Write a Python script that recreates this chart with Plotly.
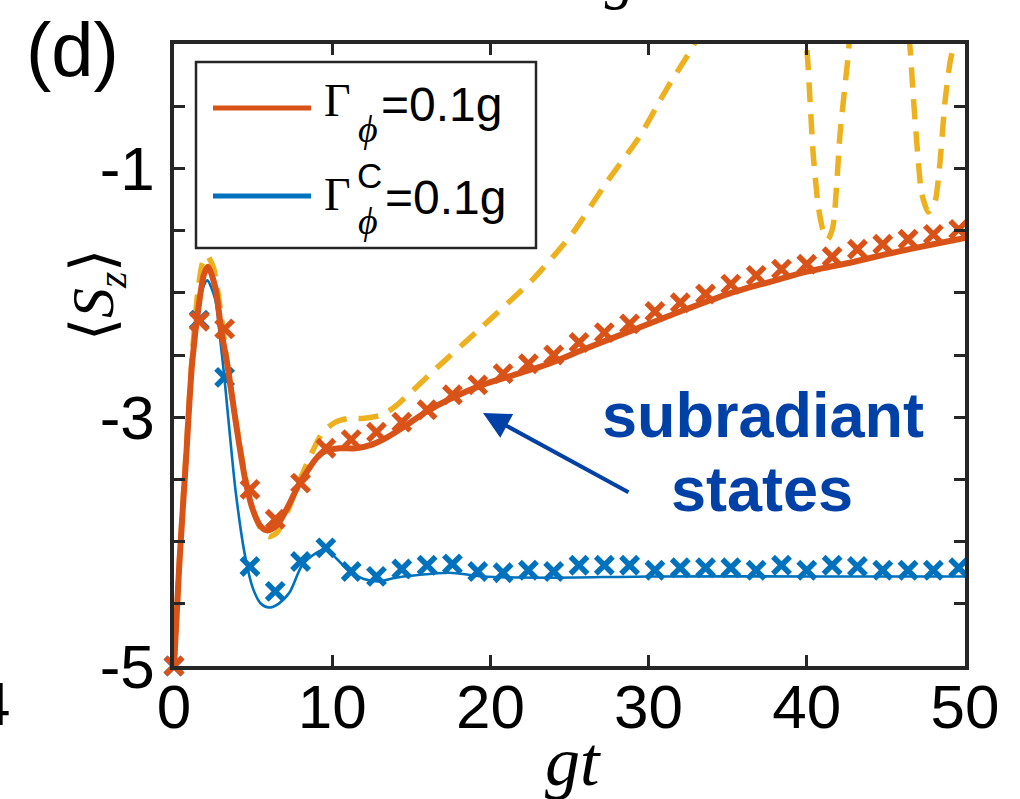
import plotly.graph_objects as go

# ---------------- data ----------------
t_markers = [0.0, 1.6, 3.2, 4.8, 6.4, 8.0, 9.6, 11.2, 12.8, 14.4, 16.0, 17.6, 19.2, 20.8,
             22.4, 24.0, 25.6, 27.2, 28.8, 30.4, 32.0, 33.6, 35.2, 36.8, 38.4, 40.0, 41.6,
             43.2, 44.8, 46.4, 48.0, 49.6]
orange_markers = [-5.0, -2.23, -2.29, -3.58, -3.82, -3.53, -3.25, -3.18, -3.12, -3.04, -2.94,
                  -2.82, -2.74, -2.65, -2.57, -2.50, -2.40, -2.32, -2.25, -2.15, -2.08, -2.01,
                  -1.93, -1.86, -1.81, -1.77, -1.71, -1.65, -1.61, -1.57, -1.53, -1.49]
blue_markers = [-5.0, -2.22, -2.68, -4.20, -4.40, -4.16, -4.05, -4.24, -4.28, -4.22, -4.19,
                -4.18, -4.24, -4.25, -4.23, -4.24, -4.19, -4.19, -4.19, -4.23, -4.21, -4.21,
                -4.21, -4.23, -4.19, -4.23, -4.19, -4.20, -4.23, -4.23, -4.23, -4.21]

t_orange = [0, 0.35, 0.75, 1.15, 1.6, 1.9, 2.15, 2.6, 3.0, 3.4, 4.0, 4.5, 5.0, 5.5, 5.9, 6.5,
            7.2, 7.9, 8.5, 9.0, 9.6, 10.5, 11.5, 12.5, 13.5, 14.5, 15.9, 17.5, 19.5, 21.5,
            23.7, 26, 29, 32, 35, 38, 40, 43, 45, 48, 50]
sz_orange = [-5.0, -4.15, -3.36, -2.56, -2.07, -1.85, -1.79, -1.95, -2.31, -2.60, -3.12, -3.5,
             -3.75, -3.88, -3.91, -3.87, -3.72, -3.54, -3.42, -3.33, -3.27, -3.25, -3.25,
             -3.22, -3.16, -3.08, -2.96, -2.85, -2.74, -2.66, -2.57, -2.45, -2.30, -2.15,
             -2.01, -1.90, -1.83, -1.75, -1.69, -1.61, -1.56]

t_blue = [0, 0.35, 0.75, 1.15, 1.5, 1.8, 2.1, 2.6, 2.9, 3.2, 3.5, 3.9, 4.5, 5.0, 5.5, 6.0, 6.6,
          7.3, 8.1, 9.0, 9.6, 10.3, 11.1, 12.0, 13.0, 14.0, 15.3, 17.4, 19.5, 23.7, 30, 40, 50]
sz_blue = [-5.0, -4.17, -3.36, -2.58, -2.15, -1.97, -1.90, -2.05, -2.35, -2.70, -3.10, -3.60,
           -4.12, -4.38, -4.50, -4.53, -4.50, -4.41, -4.19, -4.09, -4.06, -4.14, -4.24, -4.30,
           -4.32, -4.29, -4.27, -4.25, -4.28, -4.29, -4.28, -4.28, -4.28]

t_yellow = [0, 0.35, 0.75, 1.15, 1.5, 1.8, 2.1, 2.5, 3.0, 3.5, 4.0, 4.5, 5.0, 5.5, 6.0, 6.5,
            7.2, 7.9, 8.7, 9.4, 10.2, 11.0, 11.9, 13.2, 14.2, 16.3, 19.5, 22.7, 25.2, 27.3,
            29.4, 31.1, 32.8, 34.0, 36.0, 38.0, 39.3, 39.98, 40.19, 40.40, 40.72, 41.01, 41.33,
            41.65, 41.88, 42.09, 42.41, 42.61, 42.9, 44.0, 45.5, 46.2, 46.52, 46.73, 47.04,
            47.26, 47.68, 48.10, 48.42, 48.73, 49.05, 49.26, 49.6, 50.0]
sz_yellow = [-5.0, -4.15, -3.30, -2.50, -2.00, -1.76, -1.70, -1.80, -2.20, -2.70, -3.10, -3.48,
             -3.75, -3.90, -3.96, -3.93, -3.75, -3.52, -3.29, -3.12, -3.04, -3.01, -3.01, -2.98,
             -2.89, -2.64, -2.27, -1.89, -1.52, -1.12, -0.75, -0.37, -0.02, 0.3, 0.8, 0.8, 0.4,
             -0.02, -0.42, -0.88, -1.30, -1.49, -1.57, -1.47, -1.15, -0.74, -0.34, -0.10, 0.3,
             0.8, 0.8, 0.35, -0.02, -0.42, -0.93, -1.20, -1.35, -1.27, -0.95, -0.47, -0.15,
             -0.02, 0.3, 0.7]

x_ticks = [0, 10, 20, 30, 40, 50]
y_ticks = [-5, -4.5, -4, -3.5, -3, -2.5, -2, -1.5, -1, -0.5, 0]
y_ticktext = ["-5", "", "", "", "-3", "", "", "", "-1", "", ""]

legend_labels = ["=0.1g", "=0.1g"]
annot_lines = ["subradiant", "states"]

ORANGE = "#D95319"
BLUE = "#0072BD"
YELLOW = "#EDB120"
TXTBLUE = "#0041A8"
AX = "#262626"

# ---------------- geometry helpers (pixel -> paper) ----------------
W, H = 1020, 799
L, R, T, B = 174, 965, 44, 666


def PX(x):
    return (x - L) / (R - L)


def PY(y):
    return (B - y) / (B - T)


fig = go.Figure()

fig.add_trace(go.Scatter(x=t_yellow, y=sz_yellow, mode="lines",
                         line=dict(color=YELLOW, width=5.5, dash="20px,12px", shape="spline",
                                   smoothing=0.6),
                         showlegend=False, hoverinfo="skip"))
fig.add_trace(go.Scatter(x=t_blue, y=sz_blue, mode="lines",
                         line=dict(color=BLUE, width=2.6, shape="spline", smoothing=0.8),
                         showlegend=False))
fig.add_trace(go.Scatter(x=t_markers, y=blue_markers, mode="markers",
                         marker=dict(symbol="x-thin", size=17, color=BLUE,
                                     line=dict(color=BLUE, width=5.5)),
                         cliponaxis=False, showlegend=False))
fig.add_trace(go.Scatter(x=t_orange, y=sz_orange, mode="lines",
                         line=dict(color=ORANGE, width=6, shape="spline", smoothing=0.8),
                         showlegend=False))
fig.add_trace(go.Scatter(x=t_markers, y=orange_markers, mode="markers",
                         marker=dict(symbol="x-thin", size=17, color=ORANGE,
                                     line=dict(color=ORANGE, width=5.5)),
                         cliponaxis=False, showlegend=False))

tickfont = dict(family="Liberation Sans, Arial", size=62, color="black")
fig.update_xaxes(range=[0, 50], tickvals=x_ticks, ticktext=[str(v) for v in x_ticks],
                 ticks="inside", ticklen=11, tickwidth=3, tickcolor=AX,
                 showline=True, linecolor=AX, linewidth=3.5, mirror="ticks",
                 showgrid=False, zeroline=False, tickfont=tickfont, ticklabelstandoff=-16)
fig.update_yaxes(range=[-5, 0], tickvals=y_ticks, ticktext=y_ticktext,
                 ticks="inside", ticklen=11, tickwidth=3, tickcolor=AX,
                 showline=True, linecolor=AX, linewidth=3.5, mirror="ticks",
                 showgrid=False, zeroline=False, tickfont=tickfont, ticklabelstandoff=3)

shapes = [
    dict(type="rect", xref="paper", yref="paper", x0=PX(196), x1=PX(536), y0=PY(248),
         y1=PY(62), line=dict(color=AX, width=2.5), fillcolor="white", layer="above"),
    dict(type="line", xref="paper", yref="paper", x0=PX(213), x1=PX(311), y0=PY(108),
         y1=PY(108), line=dict(color=ORANGE, width=5), layer="above"),
    dict(type="line", xref="paper", yref="paper", x0=PX(213), x1=PX(311), y0=PY(196),
         y1=PY(196), line=dict(color=BLUE, width=5), layer="above"),
]

serif = "Liberation Serif, Times New Roman, serif"
sans = "Liberation Sans, Arial, sans-serif"


def ann(text, x, y, size, family=sans, color="black", xanchor="center", **kw):
    return dict(text=text, xref="paper", yref="paper", x=PX(x), y=PY(y), showarrow=False,
                xanchor=xanchor, yanchor="middle",
                font=dict(family=family, size=size, color=color), **kw)


annotations = [
    ann("(d)", 72, 49, 76),
    ann("⟨<i>S</i><sub><i>z</i></sub>⟩", 97, 295, 60, family=serif, textangle=-90),
    ann("<i>gt</i>", 573, 761, 70, family=serif),
    ann("<b>%s</b>" % annot_lines[0], 763, 415, 63, color=TXTBLUE),
    ann("<b>%s</b>" % annot_lines[1], 762, 489, 63, color=TXTBLUE),
    # legend texts
    ann("Γ", 337, 101, 46, family=serif),
    ann("<i>ϕ</i>", 368, 129, 38, family=serif),
    ann(legend_labels[0], 379, 104, 48, xanchor="left"),
    ann("Γ", 337, 194, 46, family=serif),
    ann("C", 369, 175, 35),
    ann("<i>ϕ</i>", 368, 221, 38, family=serif),
    ann(legend_labels[1], 383, 197, 48, xanchor="left"),
    # cropped neighbouring texts
    ann("4", -7, 703, 62),
    ann("/<i>g</i>", 611, -23, 60, family=serif),
    # arrow
    dict(text="", xref="paper", yref="paper", x=PX(483), y=PY(413), ax=147, ay=80,
         showarrow=True, arrowhead=2, arrowsize=1.35, arrowwidth=4, arrowcolor=TXTBLUE),
]

fig.update_layout(width=W, height=H, margin=dict(l=L, r=W - R, t=T, b=H - B),
                  plot_bgcolor="white", paper_bgcolor="white",
                  shapes=shapes, annotations=annotations, showlegend=False)

fig.write_html("out.html")
